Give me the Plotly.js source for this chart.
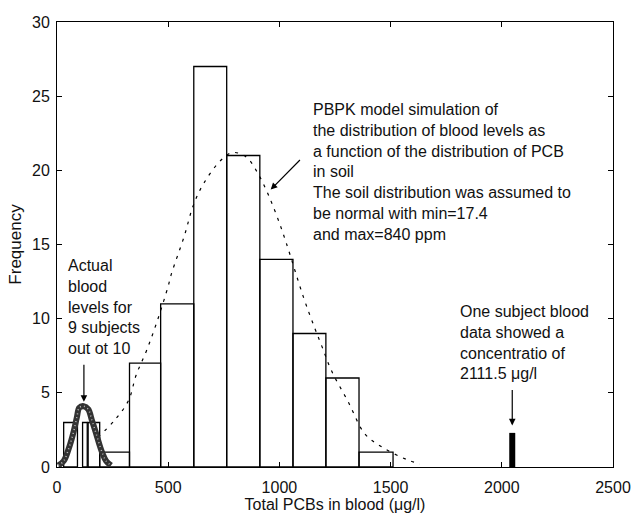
<!DOCTYPE html>
<html><head><meta charset="utf-8">
<script src="https://cdn.plot.ly/plotly-3.0.1.min.js"></script>
<style>html,body{margin:0;padding:0;background:#fff}</style>
</head><body><div id="chart" style="width:637px;height:514px"></div>
<script>
// Simulated (PBPK) histogram
const simBinEdges = [192, 326, 466, 615, 763, 912, 1061, 1209, 1358, 1511];
const simCounts = [1, 7, 11, 27, 21, 14, 9, 6, 1];
// Actual blood levels histogram (9 subjects)
const actualBinLeft = [30, 115, 140];
const actualBinRight = [92, 136, 192];
const actualCounts = [3, 3, 3];
// Dashed simulated distribution curve
const simCurveX = [183, 262, 322, 356, 404, 452, 500, 514, 573, 612, 659, 738, 790, 851, 903, 946, 989, 1031, 1107, 1158, 1192, 1234, 1309, 1386, 1466, 1573, 1632];
const simCurveY = [2.0, 3.2, 4.5, 6.2, 7.9, 9.9, 12.2, 13.0, 15.6, 17.6, 19.1, 20.7, 21.2, 20.9, 19.8, 18.5, 16.9, 15.1, 11.5, 9.4, 8.1, 6.5, 4.4, 2.2, 1.3, 0.5, 0.2];
// Speckled curve of actual blood levels
const actualCurveX = [5, 30, 54, 75, 90, 100, 120, 140, 158, 175, 189, 205, 221, 243];
const actualCurveY = [0.1, 0.4, 1.3, 2.4, 3.4, 4.0, 4.1, 3.9, 3.1, 2.3, 1.6, 0.9, 0.4, 0.1];
// Single outlier subject
const outlierX = [2047, 2047];
const outlierY = [0, 2.3];
// Ticks
const xTicks = [0, 500, 1000, 1500, 2000, 2500];
const yTicks = [0, 5, 10, 15, 20, 25, 30];

const simCenters = simCounts.map((c, i) => (simBinEdges[i] + simBinEdges[i + 1]) / 2);
const simWidths = simCounts.map((c, i) => simBinEdges[i + 1] - simBinEdges[i]);
const actCenters = actualCounts.map((c, i) => (actualBinLeft[i] + actualBinRight[i]) / 2);
const actWidths = actualCounts.map((c, i) => actualBinRight[i] - actualBinLeft[i]);

const outline = {color: '#000', width: 1.3};
const traces = [
  {type: 'bar', x: simCenters, y: simCounts, width: simWidths, marker: {color: 'rgba(0,0,0,0)', line: outline}, hoverinfo: 'skip'},
  {type: 'bar', x: actCenters, y: actualCounts, width: actWidths, marker: {color: 'rgba(0,0,0,0)', line: outline}, hoverinfo: 'skip'},
  {type: 'scatter', mode: 'lines', x: simCurveX, y: simCurveY, line: {color: '#000', width: 1.2, dash: '3px,6px', shape: 'spline'}},
  {type: 'scatter', mode: 'lines', x: actualCurveX, y: actualCurveY, line: {color: '#333333', width: 6, shape: 'spline'}},
  {type: 'scatter', mode: 'lines', x: actualCurveX, y: actualCurveY, line: {color: '#bbbbbb', width: 1.5, dash: '1px,3px', shape: 'spline'}},
  {type: 'scatter', mode: 'lines', x: outlierX, y: outlierY, line: {color: '#000', width: 6}}
];

const txt = {family: 'Arial, "Liberation Sans", sans-serif', size: 16, color: '#111'};
const arrow = {xref: 'x', yref: 'y', axref: 'x', ayref: 'y', text: '', showarrow: true, arrowhead: 2, arrowsize: 1.1, arrowwidth: 1.2, arrowcolor: '#000'};

const layout = {
  width: 637, height: 514,
  margin: {l: 57, r: 24, t: 22, b: 47},
  showlegend: false,
  barmode: 'overlay',
  paper_bgcolor: '#fff', plot_bgcolor: '#fff',
  font: txt,
  xaxis: {
    range: [0, 2500], tickvals: xTicks, ticks: 'inside', ticklen: 5, tickcolor: '#000',
    mirror: 'allticks', showline: true, linecolor: '#000', linewidth: 1,
    showgrid: false, zeroline: false, ticklabelstandoff: 6,
    tickfont: {size: 16},
    title: {text: 'Total PCBs in blood (μg/l)', font: {size: 16}, standoff: 1}
  },
  yaxis: {
    range: [0, 30], tickvals: yTicks, ticks: 'inside', ticklen: 5, tickcolor: '#000',
    mirror: 'allticks', showline: true, linecolor: '#000', linewidth: 1,
    showgrid: false, zeroline: false, ticklabelstandoff: 3,
    tickfont: {size: 16},
    title: {text: 'Frequency', font: {size: 17}, standoff: 6}
  },
  annotations: [
    {xref: 'x', yref: 'y', x: 1141, y: 24.8, xanchor: 'left', yanchor: 'top', align: 'left', showarrow: false, font: txt,
     text: 'PBPK model simulation of<br>the distribution of blood levels as<br>a function of the distribution of PCB<br>in soil<br>The soil distribution was assumed to<br>be normal with min=17.4<br>and max=840 ppm'},
    {xref: 'x', yref: 'y', x: 39, y: 14.3, xanchor: 'left', yanchor: 'top', align: 'left', showarrow: false, font: txt,
     text: 'Actual<br>blood<br>levels for<br>9 subjects<br>out ot 10'},
    {xref: 'x', yref: 'y', x: 1805, y: 11.2, xanchor: 'left', yanchor: 'top', align: 'left', showarrow: false, font: txt,
     text: 'One subject blood<br>data showed a<br>concentratio of<br>2111.5 μg/l'},
    Object.assign({x: 961, y: 18.7, ax: 1099, ay: 20.8}, arrow),
    Object.assign({x: 121, y: 4.4, ax: 121, ay: 7.0}, arrow),
    Object.assign({x: 2047, y: 2.8, ax: 2047, ay: 5.3}, arrow)
  ]
};

Plotly.newPlot('chart', traces, layout, {displayModeBar: false, staticPlot: true});
</script></body></html>
